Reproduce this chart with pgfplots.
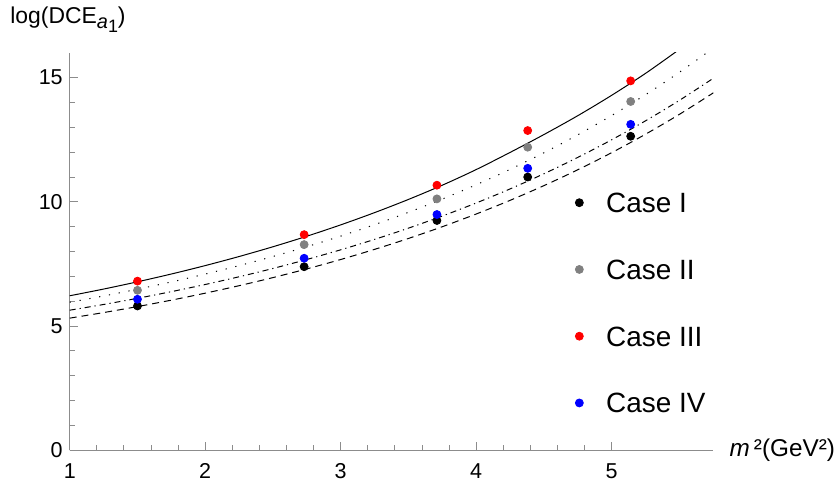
\documentclass[border=0pt]{standalone}
\usepackage{fontspec}
\setmainfont{Liberation Sans}
\usepackage{pgfplots}
\pgfplotsset{compat=1.18}
\definecolor{axgray}{RGB}{140,140,140}
\definecolor{ptgray}{RGB}{128,128,128}
\begin{document}
\begin{tikzpicture}
\begin{axis}[
  scale only axis, width=323pt, height=199.5pt,
  xmin=1, xmax=5.75, ymin=0, ymax=16,
  axis lines=left, axis line style={axgray, line width=0.6pt, -},
  tick align=inside, tick style={axgray, line width=0.5pt},
  major tick length=4pt, minor tick length=2.5pt,
  xtick={1,2,3,4,5}, minor x tick num=4,
  ytick={0,5,10,15}, minor y tick num=4,
  /pgf/number format/assume math mode=true,
  ticklabel style={font=\fontsize{10.8}{12}\selectfont, black},
  xticklabel style={yshift=-3pt},
  every axis x label/.style={at={(rel axis cs:1.0248,0)}, anchor=west, inner sep=0pt},
  every axis y label/.style={at={(rel axis cs:-0.0929,1.083)}, anchor=west, inner sep=0pt},
  label style={font=\fontsize{11.5}{13}\selectfont},
  xlabel={\fontsize{12.2}{14}\selectfont\textit{m}\,²(GeV²)},
  ylabel={log(DCE\raisebox{-0.45ex}{\fontsize{10}{11}\selectfont\textit{a}\raisebox{-0.35ex}{\fontsize{9}{10}\selectfont 1}})},
  legend style={at={(rel axis cs:0.785,0.371)}, anchor=west, draw=none, fill=none,
    inner sep=0pt, font=\fontsize{14}{16}\selectfont, row sep=23.5pt, column sep=11.5pt,
    nodes={inner sep=0pt, text height=10pt, text depth=0pt}},
  legend cell align=left,
]
% curves
\addplot[black, line width=0.5pt, smooth, forget plot] coordinates {
(1,6.220)(1.25,6.490)(1.5,6.782)(1.75,7.096)(2,7.435)(2.25,7.800)(2.5,8.193)(2.75,8.617)
(3,9.074)(3.25,9.567)(3.5,10.098)(3.75,10.671)(4,11.300)(4.25,11.990)(4.5,12.710)
(4.75,13.470)(5,14.290)(5.25,15.173)(5.5,16.140)};
\addplot[black, line width=0.5pt, smooth, dash pattern=on 0.6pt off 4.4pt, forget plot] coordinates {
(1,5.960)(1.25,6.212)(1.5,6.484)(1.75,6.777)(2,7.093)(2.25,7.434)(2.5,7.801)(2.75,8.197)
(3,8.623)(3.25,9.083)(3.5,9.579)(3.75,10.113)(4,10.689)(4.25,11.309)(4.5,11.978)
(4.75,12.699)(5,13.476)(5.25,14.314)(5.5,15.217)(5.75,16.190)};
\addplot[black, line width=0.5pt, smooth, dash pattern=on 3pt off 2pt on 0.6pt off 2pt, forget plot] coordinates {
(1,5.640)(1.25,5.870)(1.5,6.118)(1.75,6.386)(2,6.674)(2.25,6.985)(2.5,7.320)(2.75,7.681)
(3,8.070)(3.25,8.490)(3.5,8.942)(3.75,9.430)(4,9.955)(4.25,10.521)(4.5,11.132)
(4.75,11.790)(5,12.499)(5.25,13.263)(5.5,14.087)(5.75,14.975)};
\addplot[black, line width=0.5pt, smooth, dash pattern=on 3.5pt off 2.5pt, forget plot] coordinates {
(1,5.320)(1.25,5.544)(1.5,5.785)(1.75,6.044)(2,6.325)(2.25,6.626)(2.5,6.952)(2.75,7.302)
(3,7.680)(3.25,8.088)(3.5,8.527)(3.75,9.000)(4,9.511)(4.25,10.061)(4.5,10.654)
(4.75,11.293)(5,11.981)(5.25,12.724)(5.5,13.524)(5.75,14.387)};
% points
\addplot[only marks, mark=*, mark size=2pt, black] coordinates {
(1.5,5.81)(2.73,7.39)(3.71,9.25)(4.38,11.00)(5.14,12.64)};
\addlegendentry{Case I}
\addplot[only marks, mark=*, mark size=2pt, ptgray, mark options={draw=ptgray, fill=ptgray}] coordinates {
(1.5,6.44)(2.73,8.28)(3.71,10.12)(4.38,12.20)(5.14,14.04)};
\addlegendentry{Case II}
\addplot[only marks, mark=*, mark size=2pt, red, mark options={draw=red, fill=red}] coordinates {
(1.5,6.81)(2.73,8.68)(3.71,10.67)(4.38,12.87)(5.14,14.87)};
\addlegendentry{Case III}
\addplot[only marks, mark=*, mark size=2pt, blue, mark options={draw=blue, fill=blue}] coordinates {
(1.5,6.08)(2.73,7.73)(3.71,9.49)(4.38,11.35)(5.14,13.12)};
\addlegendentry{Case IV}
\coordinate (bl) at (rel axis cs:-0.10836,-0.07268);
\coordinate (tr) at (rel axis cs:1.18421,1.13283);
\end{axis}
\path (bl) rectangle (tr);
\end{tikzpicture}
\end{document}
